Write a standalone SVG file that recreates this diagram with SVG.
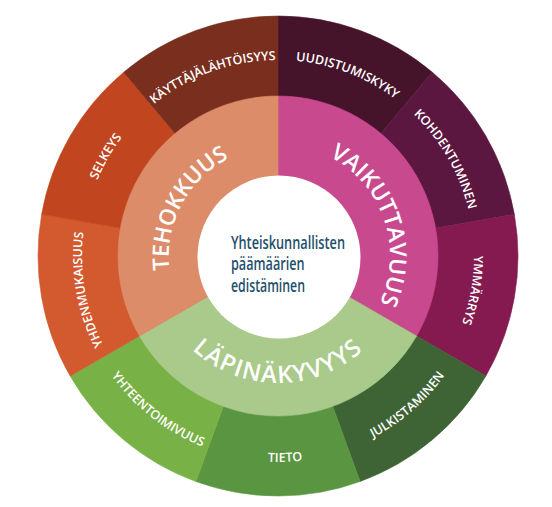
<svg xmlns="http://www.w3.org/2000/svg" xmlns:xlink="http://www.w3.org/1999/xlink" width="552" height="507" viewBox="0 0 552 507">
<style>
.seg{stroke-width:0.6}
.outer{font-family:"Open Sans","Liberation Sans",sans-serif;font-weight:600;font-size:12.5px;fill:#ffffff;text-anchor:middle}
.inner{font-family:"Open Sans","Liberation Sans",sans-serif;font-weight:600;fill:#ffffff;text-anchor:middle}
.center{font-family:"Open Sans","Liberation Sans",sans-serif;font-weight:600;font-size:18.5px;fill:#1f506d}
</style>
<defs>
<path id="p-kay" d="M84.98,221.97 A196,196 0 0 1 403.99,105.86"/>
<path id="p-uud" d="M154.66,103.69 A196,196 0 0 1 471.59,225.35"/>
<path id="p-koh" d="M278,60 A196,196 0 0 1 447.74,354"/>
<path id="p-ymm" d="M403.99,105.86 A196,196 0 0 1 345.03,440.18"/>
<path id="p-yhd" d="M210.97,440.18 A196,196 0 0 1 152.01,105.86"/>
<path id="p-sel" d="M108.26,354 A196,196 0 0 1 278,60"/>
<path id="p-jul" d="M211.25,449.83 A205,205 0 0 0 479.23,216.89"/>
<path id="p-tie" d="M103.31,365.16 A206,206 0 0 0 459.88,352.72"/>
<path id="p-yht" d="M74.99,227.46 A205,205 0 0 0 354.79,446.08"/>
<path id="p-teh" d="M184.72,314.29 A111,111 0 0 1 274.16,146.07"/>
<path id="p-vai" d="M299.37,146.06 A112,112 0 0 1 362.53,329.48"/>
<path id="p-lap" d="M168.02,319.5 A127,127 0 0 0 387.98,319.5"/>
</defs>

<g id="uudistumiskyky">
<path class="seg" fill="#45142b" stroke="#45142b" d="M278,256 L278,16 A240,240 0 0 1 432.27,72.16 Z"/>
<text class="outer"><textPath xlink:href="#p-uud" href="#p-uud" startOffset="50%">UUDISTUMISKYKY</textPath></text>
</g>
<g id="kohdentuminen">
<path class="seg" fill="#5c1740" stroke="#5c1740" d="M278,256 L432.27,72.16 A240,240 0 0 1 514.35,214.34 Z"/>
<text class="outer"><textPath xlink:href="#p-koh" href="#p-koh" startOffset="50%">KOHDENTUMINEN</textPath></text>
</g>
<g id="ymmarrys">
<path class="seg" fill="#841a50" stroke="#841a50" d="M278,256 L514.35,214.34 A240,240 0 0 1 485.85,376 Z"/>
<text class="outer"><textPath xlink:href="#p-ymm" href="#p-ymm" startOffset="50%">YMMÄRRYS</textPath></text>
</g>
<g id="julkistaminen">
<path class="seg" fill="#3e6334" stroke="#3e6334" d="M278,256 L485.85,376 A240,240 0 0 1 360.08,481.53 Z"/>
<text class="outer"><textPath xlink:href="#p-jul" href="#p-jul" startOffset="50%">JULKISTAMINEN</textPath></text>
</g>
<g id="tieto">
<path class="seg" fill="#5a9641" stroke="#5a9641" d="M278,256 L360.08,481.53 A240,240 0 0 1 195.92,481.53 Z"/>
<text class="outer"><textPath xlink:href="#p-tie" href="#p-tie" startOffset="50%">TIETO</textPath></text>
</g>
<g id="yhteentoimivuus">
<path class="seg" fill="#78b145" stroke="#78b145" d="M278,256 L195.92,481.53 A240,240 0 0 1 70.15,376 Z"/>
<text class="outer"><textPath xlink:href="#p-yht" href="#p-yht" startOffset="50%">YHTEENTOIMIVUUS</textPath></text>
</g>
<g id="yhdenmukaisuus">
<path class="seg" fill="#d3592f" stroke="#d3592f" d="M278,256 L70.15,376 A240,240 0 0 1 41.65,214.34 Z"/>
<text class="outer"><textPath xlink:href="#p-yhd" href="#p-yhd" startOffset="50%">YHDENMUKAISUUS</textPath></text>
</g>
<g id="selkeys">
<path class="seg" fill="#c1461f" stroke="#c1461f" d="M278,256 L41.65,214.34 A240,240 0 0 1 123.73,72.16 Z"/>
<text class="outer"><textPath xlink:href="#p-sel" href="#p-sel" startOffset="50%">SELKEYS</textPath></text>
</g>
<g id="kayttajalahtoisyys">
<path class="seg" fill="#7a2e1d" stroke="#7a2e1d" d="M278,256 L123.73,72.16 A240,240 0 0 1 278,16 Z"/>
<text class="outer"><textPath xlink:href="#p-kay" href="#p-kay" startOffset="50%">KÄYTTÄJÄLÄHTÖISYYS</textPath></text>
</g>

<g id="vaikuttavuus">
<path class="seg" fill="#c9498f" stroke="#c9498f" d="M278,256 L278,96 A160,160 0 0 1 416.56,336 Z"/>
<text class="inner" font-size="23"><textPath xlink:href="#p-vai" href="#p-vai" startOffset="50%">VAIKUTTAVUUS</textPath></text>
</g>
<g id="lapinakyvyys">
<path class="seg" fill="#a9ca8a" stroke="#a9ca8a" d="M278,256 L416.56,336 A160,160 0 0 1 139.44,336 Z"/>
<text class="inner" font-size="24" letter-spacing="1.4"><textPath xlink:href="#p-lap" href="#p-lap" startOffset="50%">LÄPINÄKYVYYS</textPath></text>
</g>
<g id="tehokkuus">
<path class="seg" fill="#dd8c69" stroke="#dd8c69" d="M278,256 L139.44,336 A160,160 0 0 1 278,96 Z"/>
<text class="inner" font-size="22.5"><textPath xlink:href="#p-teh" href="#p-teh" startOffset="50%">TEHOKKUUS</textPath></text>
</g>

<g id="center">
<circle cx="279" cy="257" r="81.5" fill="#ffffff"/>
<text class="center" x="231" y="248.5" textLength="114" lengthAdjust="spacingAndGlyphs">Yhteiskunnallisten</text>
<text class="center" x="231" y="270" textLength="73.5" lengthAdjust="spacingAndGlyphs">päämäärien</text>
<text class="center" x="231" y="291.5" textLength="74" lengthAdjust="spacingAndGlyphs">edistäminen</text>
</g>
</svg>
